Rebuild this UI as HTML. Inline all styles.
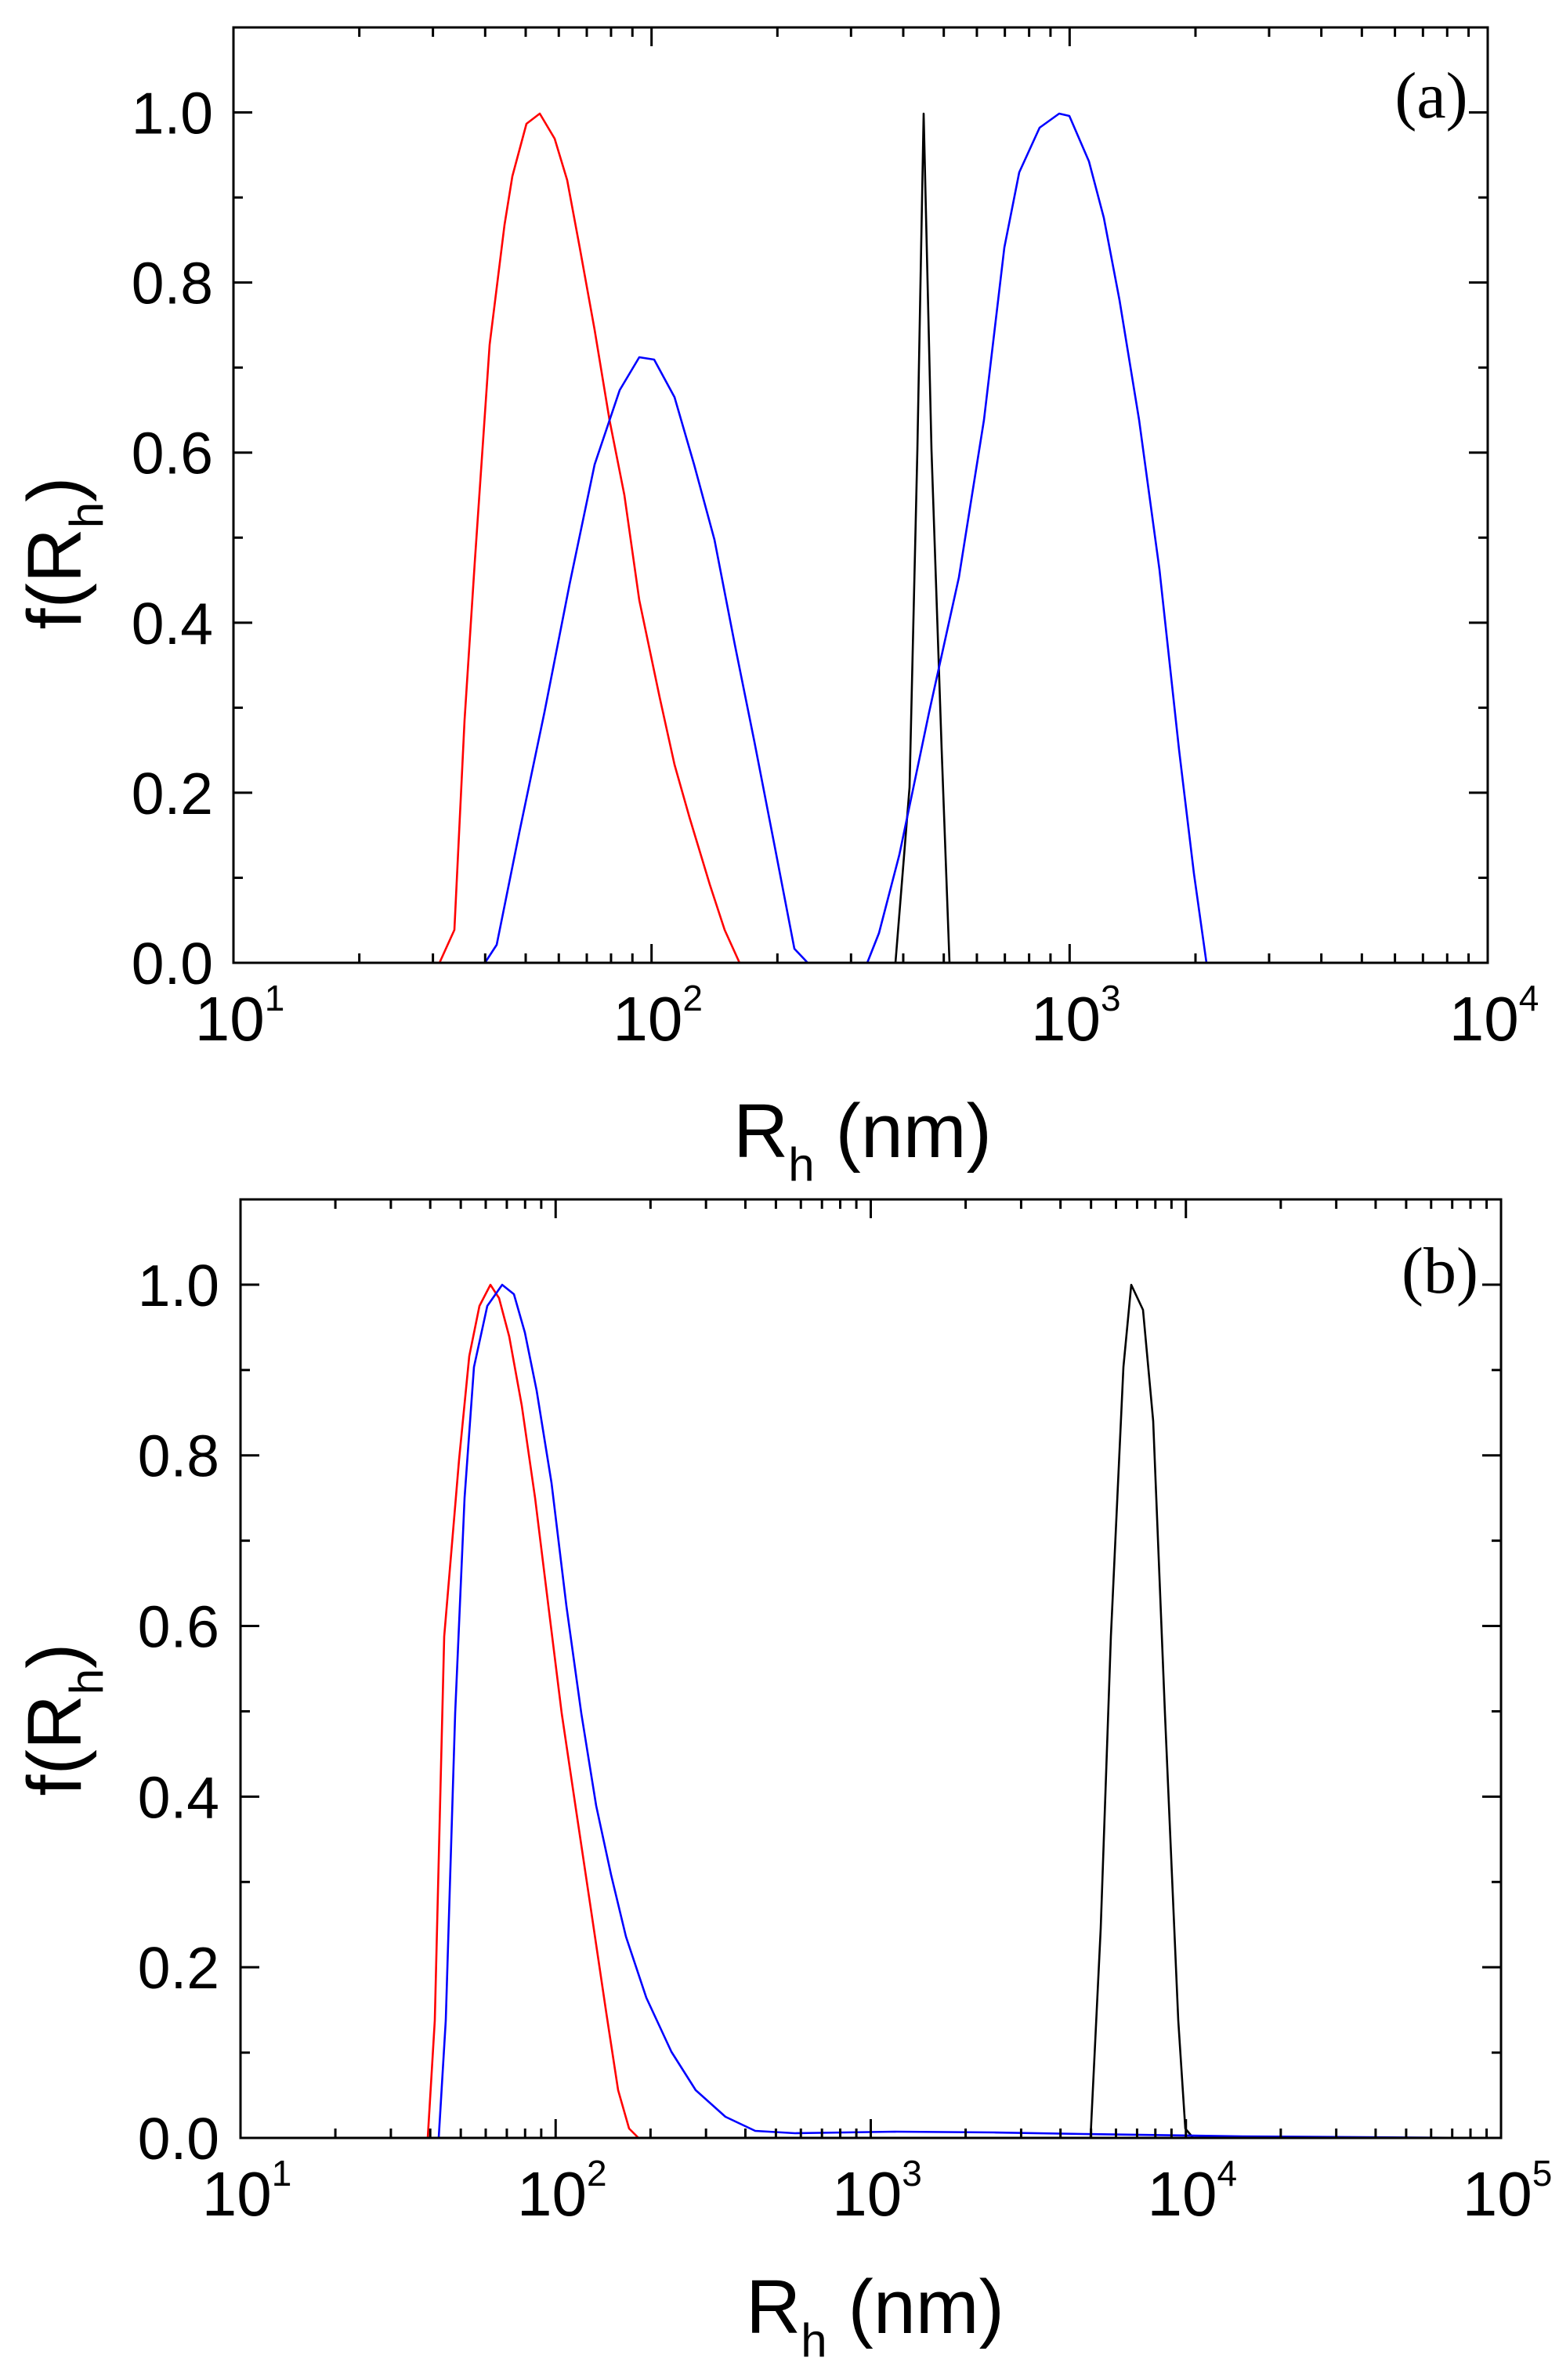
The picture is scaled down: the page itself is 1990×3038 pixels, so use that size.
<!DOCTYPE html>
<html><head><meta charset="utf-8"><style>
html,body{margin:0;padding:0;background:#fff;width:1990px;height:3038px;overflow:hidden}
svg{display:block}
text{font-family:"Liberation Sans",Arial,sans-serif;fill:#000}
</style></head><body>
<svg id="s" width="1990" height="3038" viewBox="0 0 1990 3038" xmlns="http://www.w3.org/2000/svg">
<g fill="none" stroke-width="2.6" stroke-linejoin="round">
<polyline stroke="#ff0000" points="298,1229 561,1229 580,1187 593,919 606,718 625,440 644,287 654,225 672,158 689,145 708,177 724,230 740,316 759,421 778,536 797,632 816,766 842,890 861,976 880,1043 906,1129 925,1187 944,1229 1540,1229"/>
<polyline stroke="#000000" points="1143,1229 1161,1005 1171,574 1179,145 1189,574 1202,957 1212,1229"/>
<polyline stroke="#0000ff" points="298,1229 619,1229 634,1206 663,1062 695,909 727,746 759,593 791,498 816,456 835,459 861,507 886,593 912,689 938,823 963,947 989,1081 1014,1211 1031,1229 1107,1229 1122,1191 1148,1091 1186,909 1224,737 1256,536 1282,316 1301,220 1327,163 1352,145 1365,148 1390,206 1409,278 1429,383 1454,536 1480,727 1505,957 1524,1115 1540,1229 1899,1229"/>
<polyline stroke="#000000" points="1392,2729 1405,2462 1418,2089 1434,1745 1444,1640 1459,1672 1472,1814 1487,2187 1504,2579 1513,2717 1523,2729"/>
<polyline stroke="#ff0000" points="307,2729 546,2729 555,2579 567,2089 586,1863 599,1731 612,1667 626,1640 637,1657 650,1706 666,1794 683,1912 700,2050 717,2187 736,2315 755,2442 774,2570 789,2668 803,2717 815,2729 1590,2729"/>
<polyline stroke="#0000ff" points="307,2729 560,2729 569,2579 581,2187 593,1912 605,1745 622,1667 641,1640 656,1652 670,1701 685,1775 704,1893 723,2050 742,2187 761,2305 780,2393 799,2472 825,2550 857,2619 888,2668 926,2702 964,2720 1015,2723 1079,2722 1142,2721 1269,2722 1383,2724 1586,2727 1885,2729"/>
</g>
<g id="ax" stroke="#000" stroke-width="3" fill="none"></g>
<g id="tx"></g>
<text x="1827" y="150" font-size="84" style="font-family:'Liberation Serif',serif" text-anchor="middle">(a)</text>
<text x="1838" y="1650" font-size="84" style="font-family:'Liberation Serif',serif" text-anchor="middle">(b)</text>
<text x="1101" y="1477" font-size="97" text-anchor="middle">R<tspan font-size="60" dy="30">h</tspan><tspan dy="-30"> (nm)</tspan></text>
<text x="1117" y="2978" font-size="97" text-anchor="middle">R<tspan font-size="60" dy="30">h</tspan><tspan dy="-30"> (nm)</tspan></text>
<text transform="translate(103,706) rotate(-90)" font-size="97" text-anchor="middle">f(R<tspan font-size="60" dy="28">h</tspan><tspan dy="-28">)</tspan></text>
<text transform="translate(103,2195) rotate(-90)" font-size="97" text-anchor="middle">f(R<tspan font-size="60" dy="28">h</tspan><tspan dy="-28">)</tspan></text>
</svg>
<script>
var NS="http://www.w3.org/2000/svg",ax=document.getElementById('ax'),tx=document.getElementById('tx');
function el(p,n,a,t){var e=document.createElementNS(NS,n);for(var k in a)e.setAttribute(k,a[k]);if(t!=null)e.textContent=t;p.appendChild(e);return e;}
function line(x1,y1,x2,y2){el(ax,'line',{x1:x1,y1:y1,x2:x2,y2:y2});}
function panel(L,R,T,B,d0,nd,lblX,lblY){
 el(ax,'rect',{x:L,y:T,width:R-L,height:B-T});
 var dw=(R-L)/nd, u=(B-T)/1.1;
 for(var i=0;i<=11;i++){var y=B-i*0.1*u;var len=(i%2==0)?24:12;
  line(L,y,L+len,y);line(R,y,R-len,y);
  if(i%2==0){el(tx,'text',{x:lblX,y:y+27,'font-size':75,'text-anchor':'end'},(i/10).toFixed(1));}}
 for(var d=0;d<=nd;d++){var x=L+d*dw;line(x,B,x,B-24);line(x,T,x,T+24);
  var t=el(tx,'text',{x:x+8,y:lblY,'font-size':80,'text-anchor':'middle'},'10');
  el(t,'tspan',{'font-size':46,dy:-38},String(d0+d));
  if(d<nd)for(var m=2;m<=9;m++){var xm=x+Math.log10(m)*dw;line(xm,B,xm,B-12);line(xm,T,xm,T+12);}}
}
panel(298,1899,35,1229,1,3,272,1328);
panel(307,1916,1531,2729,1,4,280,2828);
</script>
</body></html>
